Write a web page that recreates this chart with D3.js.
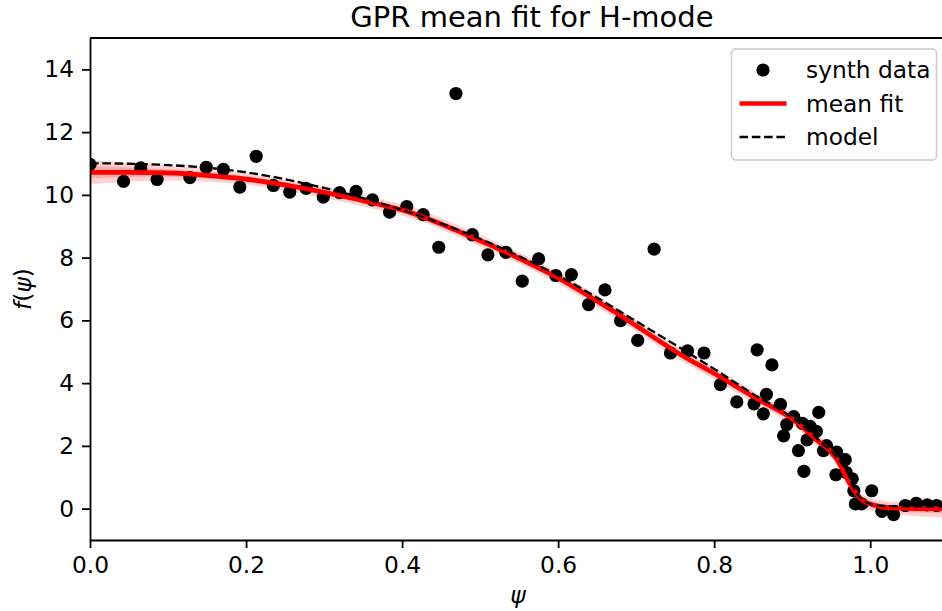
<!DOCTYPE html>
<html>
<head>
<meta charset="utf-8">
<script src="https://cdn.jsdelivr.net/npm/d3@7"></script>
<style>
  body { margin: 0; background: #fff; }
  svg { font-family: "DejaVu Sans", sans-serif; }
</style>
</head>
<body>
<script>
// synth data
var dataX = [0.0, 0.043, 0.065, 0.086, 0.128, 0.149, 0.171, 0.192, 0.213, 0.235, 0.256, 0.277, 0.299, 0.320, 0.341, 0.362,
    0.384, 0.406, 0.427, 0.447, 0.469, 0.490, 0.510, 0.533, 0.554, 0.575, 0.597, 0.617, 0.639, 0.660, 0.680, 0.702,
    0.723, 0.744, 0.766, 0.787, 0.808, 0.829, 0.855, 0.874, 0.851, 0.867, 0.863, 0.885, 0.902, 0.893, 0.934, 0.913,
    0.923, 0.931, 0.889, 0.919, 0.908, 0.915, 0.944, 0.940, 0.957, 0.968, 0.956, 0.969, 0.977, 0.979, 1.002, 0.981,
    0.989, 1.015, 1.030, 1.045, 1.059, 1.073, 1.085];
var dataY = [10.97, 10.43, 10.86, 10.49, 10.55, 10.88, 10.81, 10.25, 11.23, 10.30, 10.09, 10.21, 9.93, 10.07, 10.11, 9.84,
    9.45, 9.63, 9.37, 8.33, 13.23, 8.73, 8.09, 8.17, 7.25, 7.96, 7.43, 7.46, 6.50, 6.97, 5.99, 5.36,
    8.27, 4.96, 5.03, 4.96, 3.95, 3.40, 5.06, 4.58, 3.34, 3.64, 3.02, 3.32, 2.93, 2.68, 3.07, 2.72,
    2.62, 2.46, 2.32, 2.19, 1.85, 1.19, 2.01, 1.85, 1.80, 1.56, 1.08, 1.16, 0.95, 0.57, 0.57, 0.15,
    0.15, -0.09, -0.19, 0.10, 0.17, 0.12, 0.10];

// GPR mean fit and its standard deviation
var fitX = [0.0, 0.05, 0.1, 0.15, 0.2, 0.28, 0.37, 0.4, 0.49, 0.6, 0.68, 0.77, 0.79, 0.855, 0.9, 0.93, 0.957, 0.974, 0.99, 1.01, 1.03, 1.06, 1.092];
var fitY = [10.72, 10.72, 10.70, 10.62, 10.50, 10.18, 9.70, 9.52, 8.65, 7.35, 6.15, 4.72, 4.45, 3.50, 2.86, 2.22, 1.58, 0.79, 0.26, 0.08, 0.02, 0.0, 0.0];
var fitSd = [0.19, 0.15, 0.12, 0.1, 0.09, 0.09, 0.09, 0.09, 0.09, 0.09, 0.09, 0.09, 0.09, 0.09, 0.09, 0.09, 0.1, 0.1, 0.1, 0.1, 0.1, 0.12, 0.14];

// model
var modelX = [0.0, 0.1, 0.2, 0.3, 0.4, 0.5, 0.6, 0.7, 0.8, 0.85, 0.9, 0.94, 0.96, 0.97, 0.98, 0.99, 1.0, 1.02, 1.092];
var modelY = [11.01, 10.95, 10.72, 10.22, 9.52, 8.60, 7.43, 5.97, 4.45, 3.65, 2.90, 2.05, 1.55, 1.2, 0.6, 0.3, 0.15, 0.08, 0.07];

var xTicks = [0.0, 0.2, 0.4, 0.6, 0.8, 1.0];
var yTicks = [0, 2, 4, 6, 8, 10, 12, 14];

var width = 942, height = 611;
var margin = {top: 38, right: 0, bottom: 71, left: 90};
var tickFont = 23.3;

var svg = d3.select('body').append('svg').attr('width', width).attr('height', height);

var x = d3.scaleLinear().domain([0, 1.092]).range([margin.left, width - margin.right]);
var y = d3.scaleLinear().domain([-1, 15]).range([height - margin.bottom, margin.top]);

svg.append('clipPath').attr('id', 'clip').append('rect')
    .attr('x', margin.left).attr('y', margin.top)
    .attr('width', width - margin.left - margin.right)
    .attr('height', height - margin.top - margin.bottom);

var plot = svg.append('g').attr('clip-path', 'url(#clip)');

var fit = fitX.map(function (d, i) { return {x: d, y: fitY[i], s: fitSd[i]}; });

// 2 sigma and 1 sigma bands
[2, 1].forEach(function (k) {
    plot.append('path')
        .datum(fit)
        .attr('fill', 'red')
        .attr('fill-opacity', 0.18)
        .attr('d', d3.area()
            .curve(d3.curveMonotoneX)
            .x(function (d) { return x(d.x); })
            .y0(function (d) { return y(d.y - k * d.s); })
            .y1(function (d) { return y(d.y + k * d.s); }));
});

// synth data points
plot.selectAll('circle')
    .data(dataX)
    .enter()
    .append('circle')
    .attr('cx', function (d) { return x(d); })
    .attr('cy', function (d, i) { return y(dataY[i]); })
    .attr('r', 6.6)
    .attr('fill', 'black');

// mean fit
plot.append('path')
    .datum(fit)
    .attr('fill', 'none')
    .attr('stroke', 'red')
    .attr('stroke-width', 4.7)
    .attr('d', d3.line().curve(d3.curveMonotoneX)
        .x(function (d) { return x(d.x); })
        .y(function (d) { return y(d.y); }));

// model
plot.append('path')
    .datum(modelX)
    .attr('fill', 'none')
    .attr('stroke', 'black')
    .attr('stroke-width', 2.3)
    .attr('stroke-dasharray', '8.6,3.7')
    .attr('d', d3.line().curve(d3.curveMonotoneX)
        .x(function (d) { return x(d); })
        .y(function (d, i) { return y(modelY[i]); }));

// axes
var xAxis = svg.append('g')
    .attr('transform', 'translate(0,' + (height - margin.bottom) + ')')
    .call(d3.axisBottom(x).tickValues(xTicks).tickFormat(d3.format('.1f')).tickSizeInner(8).tickSizeOuter(0).tickPadding(8));
var yAxis = svg.append('g')
    .attr('transform', 'translate(' + margin.left + ',0)')
    .call(d3.axisLeft(y).tickValues(yTicks).tickSizeInner(8).tickSizeOuter(0).tickPadding(8));

[xAxis, yAxis].forEach(function (a) {
    a.selectAll('text').attr('font-size', tickFont).attr('fill', '#000').attr('font-family', '"DejaVu Sans", sans-serif');
    a.selectAll('line').attr('stroke-width', 1.8).attr('stroke', '#000');
    a.select('.domain').attr('stroke-width', 1.8).attr('stroke', '#000');
});

// top spine
svg.append('line')
    .attr('x1', margin.left).attr('x2', width)
    .attr('y1', margin.top).attr('y2', margin.top)
    .attr('stroke', '#000').attr('stroke-width', 1.8);

// title and labels (axes run on past the right edge of the picture)
var axesMid = 532;
svg.append('text')
    .attr('x', axesMid).attr('y', 27)
    .attr('text-anchor', 'middle').attr('font-size', 29).attr('fill', '#000')
    .text('GPR mean fit for H-mode');

svg.append('text')
    .attr('x', axesMid - 14).attr('y', 603)
    .attr('text-anchor', 'middle').attr('font-size', tickFont).attr('font-style', 'italic').attr('fill', '#000')
    .text('ψ');

svg.append('text')
    .attr('transform', 'translate(31,' + y(7) + ') rotate(-90)')
    .attr('text-anchor', 'middle').attr('font-size', tickFont).attr('fill', '#000')
    .html('<tspan font-style="italic">f</tspan>(<tspan font-style="italic">ψ</tspan>)');

// legend
var lg = svg.append('g').attr('transform', 'translate(731.5,49)');
lg.append('rect')
    .attr('width', 205).attr('height', 111).attr('rx', 4)
    .attr('fill', 'white').attr('fill-opacity', 0.8)
    .attr('stroke', '#ccc').attr('stroke-width', 1.5);
var items = ['synth data', 'mean fit', 'model'];
items.forEach(function (name, i) {
    var cy = 21 + i * 33.5;
    if (i === 0) {
        lg.append('circle').attr('cx', 31.5).attr('cy', cy).attr('r', 6.6).attr('fill', 'black');
    } else if (i === 1) {
        lg.append('line').attr('x1', 8).attr('x2', 55).attr('y1', cy).attr('y2', cy)
            .attr('stroke', 'red').attr('stroke-width', 4.7);
    } else {
        lg.append('line').attr('x1', 8).attr('x2', 55).attr('y1', cy).attr('y2', cy)
            .attr('stroke', 'black').attr('stroke-width', 2.3).attr('stroke-dasharray', '8.6,3.7');
    }
    lg.append('text').attr('x', 74.5).attr('y', cy + 8).attr('font-size', tickFont).attr('fill', '#000').text(name);
});
</script>
</body>
</html>
